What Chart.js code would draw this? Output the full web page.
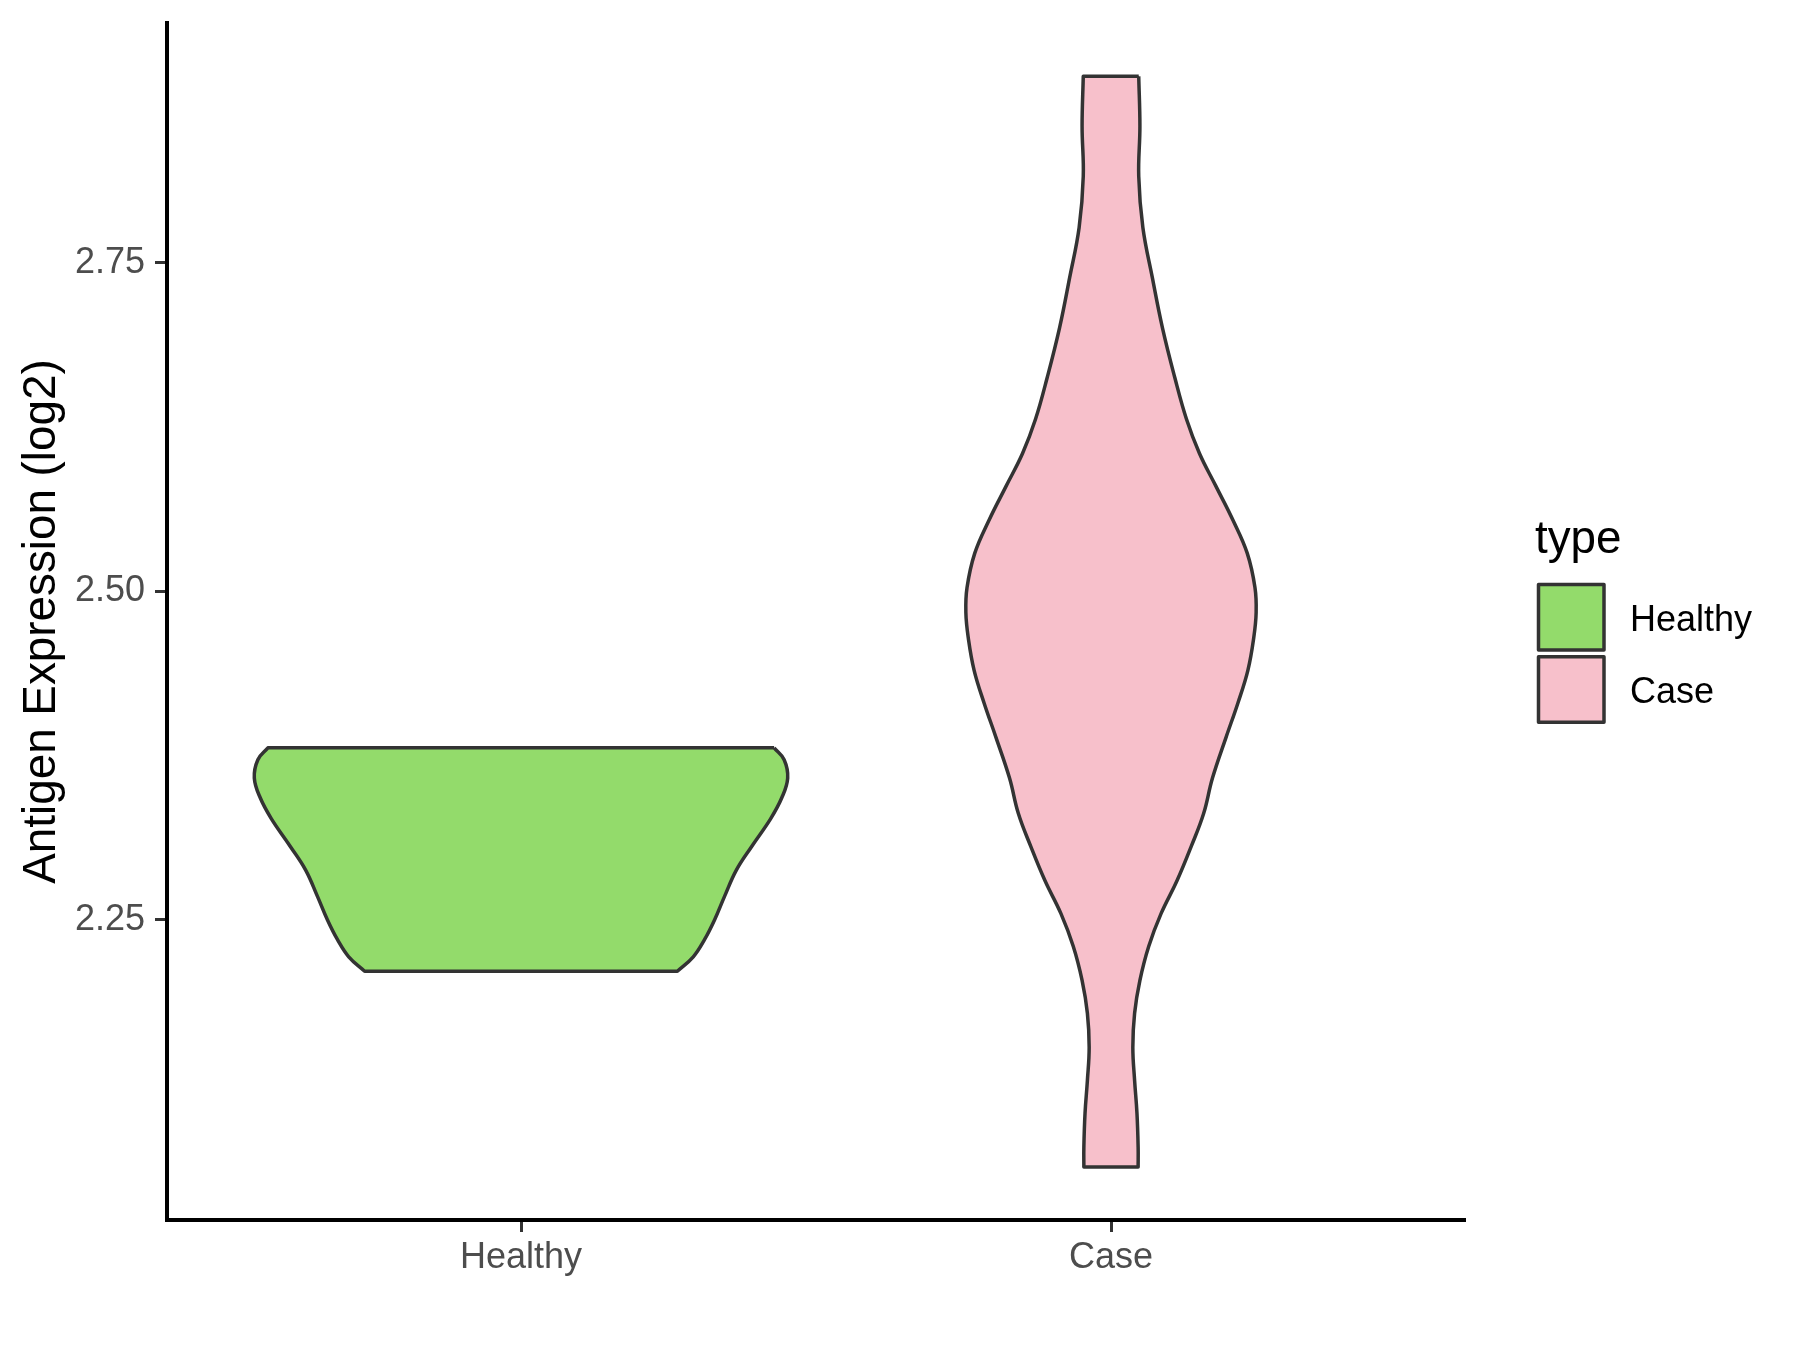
<!DOCTYPE html>
<html>
<head>
<meta charset="utf-8">
<script src="https://cdn.jsdelivr.net/npm/chart.js@4.4.1/dist/chart.umd.min.js"></script>
<style>
  html, body { margin: 0; padding: 0; background: #ffffff; }
</style>
</head>
<body>
<canvas id="violin" width="1800" height="1350"></canvas>
<script>
// Groups and axis
const categories = ['Healthy', 'Case'];
const fillColors = ['#93DB6B', '#F7C0CB'];
const yTicks = [2.25, 2.50, 2.75];
const yMin = 2.0217;
const yMax = 2.9326;
const yTitle = 'Antigen Expression (log2)';
const legendTitle = 'type';

// Violin outlines: expression value (top to bottom) and half-width in category units
const healthyY = [2.381, 2.372, 2.358, 2.343, 2.327, 2.306, 2.288, 2.268, 2.250, 2.235, 2.222, 2.211];
const healthyHalfWidth = [0.429, 0.446, 0.452, 0.442, 0.423, 0.391, 0.365, 0.345, 0.328, 0.311, 0.292, 0.265];

const caseY = [2.892, 2.854, 2.816, 2.777, 2.739, 2.701, 2.663, 2.631, 2.605, 2.580, 2.554, 2.529, 2.503, 2.484, 2.465,
  2.440, 2.415, 2.389, 2.358, 2.331, 2.306, 2.280, 2.255, 2.230, 2.204, 2.179, 2.153, 2.128, 2.103, 2.077, 2.062];
const caseHalfWidth = [0.047, 0.049, 0.047, 0.054, 0.070, 0.087, 0.108, 0.128, 0.150, 0.178, 0.207, 0.231, 0.244, 0.246, 0.242,
  0.232, 0.215, 0.195, 0.172, 0.157, 0.136, 0.112, 0.085, 0.064, 0.049, 0.040, 0.037, 0.040, 0.044, 0.046, 0.046];

const FONT = '"Liberation Sans", Arial, sans-serif';

// Closed outline: down the right side, across the bottom, up the left side, across the top.
// Corner points are repeated so the smooth sides meet the flat ends with a sharp edge.
function outline(center, ys, hws) {
  const right = ys.map((y, i) => ({ x: center + hws[i], y: y }));
  const left = ys.map((y, i) => ({ x: center - hws[i], y: y })).reverse();
  return right.concat([right[right.length - 1], left[0]], left, [left[left.length - 1]], [right[0]]);
}

function violin(idx, ys, hws) {
  return {
    label: categories[idx],
    data: outline(idx + 1, ys, hws),
    backgroundColor: fillColors[idx],
    borderColor: '#333333',
    borderWidth: 3.5,
    borderJoinStyle: 'round',
    fill: 'shape',
    tension: 0.4,
    pointRadius: 0,
    pointHoverRadius: 0
  };
}

// no extra room for half labels at the axis ends
function noScalePadding(s) {
  s.paddingTop = 0;
  s.paddingBottom = 0;
  s.paddingLeft = 0;
  s.paddingRight = 0;
}

// ggplot-style legend on the right
const typeLegend = {
  id: 'typeLegend',
  afterDraw(chart) {
    const ctx = chart.ctx;
    ctx.save();
    ctx.font = '45.8px ' + FONT;
    ctx.fillStyle = '#000000';
    ctx.textBaseline = 'alphabetic';
    ctx.textAlign = 'left';
    ctx.fillText(legendTitle, 1535, 553);
    categories.forEach((name, i) => {
      const top = 584.5 + i * 72.3;
      ctx.fillStyle = fillColors[i];
      ctx.fillRect(1538.5, top, 65.5, 65.5);
      ctx.lineWidth = 3.5;
      ctx.lineJoin = 'round';
      ctx.strokeStyle = '#333333';
      ctx.strokeRect(1538.5, top, 65.5, 65.5);
      ctx.font = '36px ' + FONT;
      ctx.fillStyle = '#000000';
      ctx.fillText(name, 1630, top + 46);
    });
    ctx.restore();
  }
};

const ctx = document.getElementById('violin').getContext('2d');
const chart = new Chart(ctx, {
  type: 'line',
  data: {
    datasets: [
      violin(0, healthyY, healthyHalfWidth),
      violin(1, caseY, caseHalfWidth)
    ]
  },
  options: {
    responsive: false,
    animation: false,
    events: [],
    layout: { padding: { top: 23, right: 335, left: 0, bottom: 0 } },
    plugins: {
      legend: { display: false },
      tooltip: { enabled: false }
    },
    scales: {
      x: {
        type: 'linear',
        min: 0.4,
        max: 2.6,
        afterBuildTicks: s => { s.ticks = categories.map((c, i) => ({ value: i + 1 })); },
        afterFit: s => { s.height = 130; noScalePadding(s); },
        ticks: {
          color: '#4D4D4D',
          font: { family: FONT, size: 36 },
          padding: 4,
          maxRotation: 0,
          autoSkip: false,
          callback: v => categories[Math.round(v) - 1]
        },
        grid: { drawOnChartArea: false, drawTicks: true, tickLength: 12, tickColor: '#333333', tickWidth: 3 },
        border: { display: true, color: '#000000', width: 4 }
      },
      y: {
        type: 'linear',
        min: yMin,
        max: yMax,
        afterBuildTicks: s => { s.ticks = yTicks.map(v => ({ value: v })); },
        afterFit: s => { s.width = 167; noScalePadding(s); },
        ticks: {
          color: '#4D4D4D',
          font: { family: FONT, size: 36 },
          padding: 10,
          callback: v => Number(v).toFixed(2)
        },
        grid: { drawOnChartArea: false, drawTicks: true, tickLength: 12, tickColor: '#333333', tickWidth: 3 },
        border: { display: true, color: '#000000', width: 4 },
        title: {
          display: true,
          text: yTitle,
          color: '#000000',
          font: { family: FONT, size: 45.8 },
          padding: { top: 15, bottom: 0 }
        }
      }
    }
  },
  plugins: [typeLegend]
});
</script>
</body>
</html>
